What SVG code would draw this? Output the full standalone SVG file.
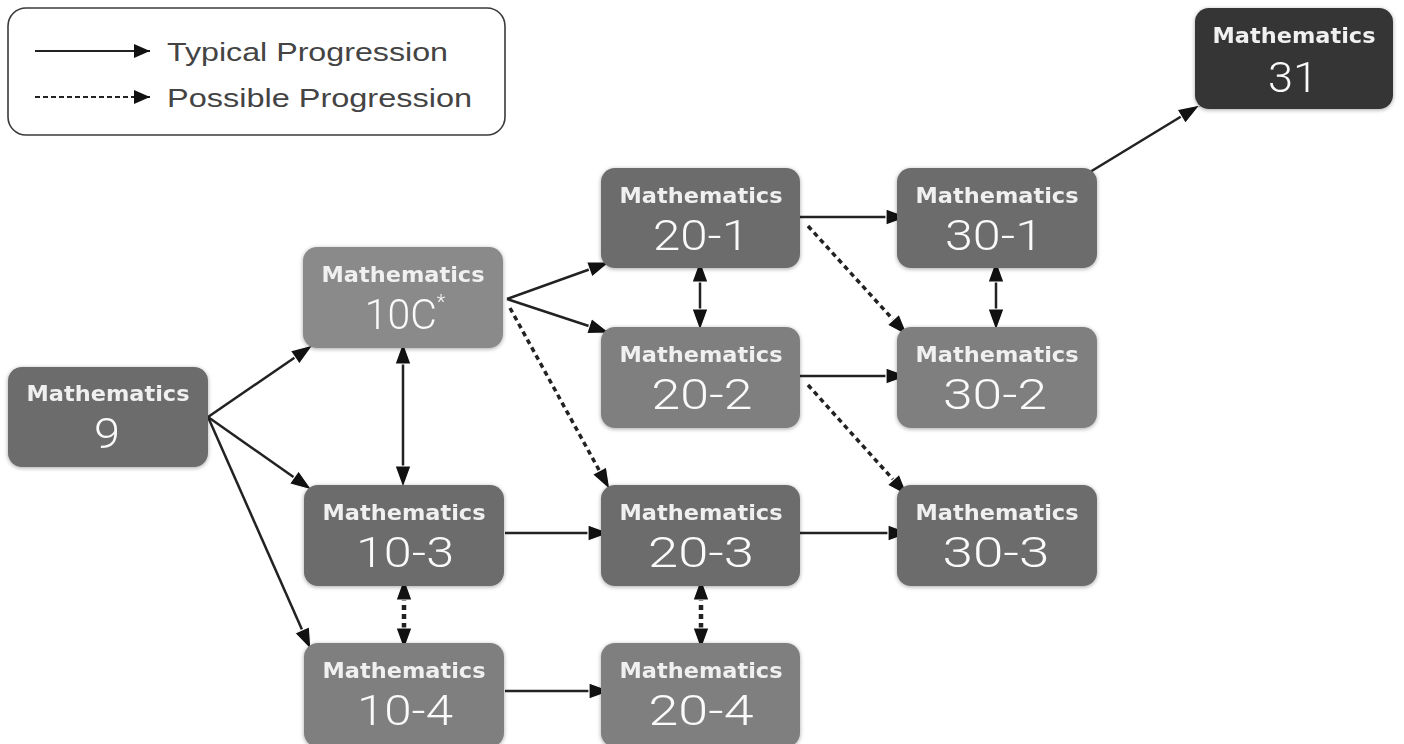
<svg xmlns="http://www.w3.org/2000/svg" width="1404" height="744" viewBox="0 0 1404 744">
<style>
.node rect{stroke:none}
.d{fill:#6c6c6c}
.l{fill:#7f7f7f}
.lc{fill:#8a8a8a}
.k{fill:#343434}
.m{font-family:"DejaVu Sans","Liberation Sans",sans-serif;font-weight:bold;font-size:21px;fill:#f0f0f0;text-anchor:middle}
.n{font-family:Roboto,"Open Sans","DejaVu Sans",sans-serif;font-weight:300;font-size:42px;fill:#fafafa;text-anchor:middle}
.leg{font-family:"Liberation Sans",Arial,sans-serif;font-size:25px;fill:#444}
.c{fill:none;stroke:#222;stroke-width:2.5}
.dash{fill:none;stroke:#222;stroke-width:3.5;stroke-dasharray:5 4}
.vd{fill:none;stroke:#222;stroke-width:4.5;stroke-dasharray:5 4}
</style>
<defs>
<marker id="ah" viewBox="0 0 26 22" markerWidth="26" markerHeight="22" refX="24" refY="11" orient="auto-start-reverse" markerUnits="userSpaceOnUse">
<path d="M2,3 L24,11 L2,19 z" fill="#111" stroke="#fff" stroke-width="1.2"/>
</marker>
<marker id="ahs" viewBox="0 0 18 16" markerWidth="18" markerHeight="16" refX="17" refY="8" orient="auto" markerUnits="userSpaceOnUse">
<path d="M1,1 L17,8 L1,15 z" fill="#111"/>
</marker>
<filter id="sh" x="-10%" y="-10%" width="120%" height="125%">
<feGaussianBlur in="SourceAlpha" stdDeviation="2"/>
<feOffset dx="0" dy="1" result="b"/>
<feComponentTransfer><feFuncA type="linear" slope="0.35"/></feComponentTransfer>
<feMerge><feMergeNode/><feMergeNode in="SourceGraphic"/></feMerge>
</filter>
</defs>
<rect width="1404" height="744" fill="#fff"/>

<g id="legend">
<rect x="8" y="8" width="497" height="127" rx="18" fill="#fff" stroke="#3a3a3a" stroke-width="1.6"/>
<line x1="35" y1="51" x2="150" y2="51" stroke="#222" stroke-width="2" marker-end="url(#ahs)"/>
<line x1="35" y1="97" x2="150" y2="97" stroke="#222" stroke-width="2" stroke-dasharray="5 3" marker-end="url(#ahs)"/>
<text class="leg" x="167" y="61" textLength="281" lengthAdjust="spacingAndGlyphs">Typical Progression</text>
<text class="leg" x="167" y="107" textLength="305" lengthAdjust="spacingAndGlyphs">Possible Progression</text>
</g>

<g id="connectors">
<path class="c" d="M208 417 L313 345" marker-end="url(#ah)"/>
<path class="c" d="M208 417 L312 490" marker-end="url(#ah)"/>
<path class="c" d="M208 417 L311 650" marker-end="url(#ah)"/>
<path class="c" d="M507 299 L610 262" marker-end="url(#ah)"/>
<path class="c" d="M507 299 L610 333" marker-end="url(#ah)"/>
<path class="c" d="M505 533 L610 533" marker-end="url(#ah)"/>
<path class="c" d="M505 691 L611 691" marker-end="url(#ah)"/>
<path class="c" d="M800 217 L908 217" marker-end="url(#ah)"/>
<path class="c" d="M800 376 L908 376" marker-end="url(#ah)"/>
<path class="c" d="M800 533 L910 533" marker-end="url(#ah)"/>
<path class="c" d="M1090 172 L1200 105" marker-end="url(#ah)"/>
<path class="c" d="M403 342 L403 488" marker-start="url(#ah)" marker-end="url(#ah)"/>
<path class="c" d="M700 260 L700 331" marker-start="url(#ah)" marker-end="url(#ah)"/>
<path class="c" d="M996 260 L996 331" marker-start="url(#ah)" marker-end="url(#ah)"/>
<path class="dash" d="M510 308 L610 490" marker-end="url(#ah)"/>
<path class="dash" d="M808 226 L908 336" marker-end="url(#ah)"/>
<path class="dash" d="M808 385 L908 496" marker-end="url(#ah)"/>
<path class="vd" d="M404 578 L404 650" marker-start="url(#ah)" marker-end="url(#ah)"/>
<path class="vd" d="M701 578 L701 650" marker-start="url(#ah)" marker-end="url(#ah)"/>
</g>

<g id="n9" class="node" filter="url(#sh)">
<rect class="d" x="8" y="367" width="200" height="100" rx="14"/>
<text class="m" x="108" y="401" textLength="163" lengthAdjust="spacingAndGlyphs">Mathematics</text>
<text class="n" x="107" y="448" textLength="26" lengthAdjust="spacingAndGlyphs">9</text>
</g>
<g id="n10c" class="node" filter="url(#sh)">
<rect class="lc" x="303" y="247" width="200" height="101" rx="14"/>
<text class="m" x="403" y="282" textLength="163" lengthAdjust="spacingAndGlyphs">Mathematics</text>
<text class="n" x="405" y="329"><tspan textLength="72" lengthAdjust="spacingAndGlyphs">10C</tspan><tspan font-size="20" dy="-20">*</tspan></text>
</g>
<g id="n10-3" class="node" filter="url(#sh)">
<rect class="d" x="304" y="485" width="200" height="101" rx="14"/>
<text class="m" x="404" y="520" textLength="163" lengthAdjust="spacingAndGlyphs">Mathematics</text>
<text class="n" x="405" y="567" textLength="98" lengthAdjust="spacingAndGlyphs">10-3</text>
</g>
<g id="n10-4" class="node" filter="url(#sh)">
<rect class="l" x="304" y="643" width="200" height="104" rx="14"/>
<text class="m" x="404" y="678" textLength="163" lengthAdjust="spacingAndGlyphs">Mathematics</text>
<text class="n" x="405" y="725" textLength="96" lengthAdjust="spacingAndGlyphs">10-4</text>
</g>
<g id="n20-1" class="node" filter="url(#sh)">
<rect class="d" x="601" y="168" width="199" height="100" rx="14"/>
<text class="m" x="701" y="203" textLength="163" lengthAdjust="spacingAndGlyphs">Mathematics</text>
<text class="n" x="701" y="250" textLength="96" lengthAdjust="spacingAndGlyphs">20-1</text>
</g>
<g id="n20-2" class="node" filter="url(#sh)">
<rect class="l" x="601" y="327" width="199" height="101" rx="14"/>
<text class="m" x="701" y="362" textLength="163" lengthAdjust="spacingAndGlyphs">Mathematics</text>
<text class="n" x="702" y="409" textLength="101" lengthAdjust="spacingAndGlyphs">20-2</text>
</g>
<g id="n20-3" class="node" filter="url(#sh)">
<rect class="d" x="601" y="485" width="199" height="101" rx="14"/>
<text class="m" x="701" y="520" textLength="163" lengthAdjust="spacingAndGlyphs">Mathematics</text>
<text class="n" x="701" y="567" textLength="106" lengthAdjust="spacingAndGlyphs">20-3</text>
</g>
<g id="n20-4" class="node" filter="url(#sh)">
<rect class="l" x="601" y="643" width="199" height="104" rx="14"/>
<text class="m" x="701" y="678" textLength="163" lengthAdjust="spacingAndGlyphs">Mathematics</text>
<text class="n" x="701" y="725" textLength="105" lengthAdjust="spacingAndGlyphs">20-4</text>
</g>
<g id="n30-1" class="node" filter="url(#sh)">
<rect class="d" x="897" y="168" width="200" height="100" rx="14"/>
<text class="m" x="997" y="203" textLength="163" lengthAdjust="spacingAndGlyphs">Mathematics</text>
<text class="n" x="994" y="250" textLength="98" lengthAdjust="spacingAndGlyphs">30-1</text>
</g>
<g id="n30-2" class="node" filter="url(#sh)">
<rect class="l" x="897" y="327" width="200" height="101" rx="14"/>
<text class="m" x="997" y="362" textLength="163" lengthAdjust="spacingAndGlyphs">Mathematics</text>
<text class="n" x="995" y="409" textLength="104" lengthAdjust="spacingAndGlyphs">30-2</text>
</g>
<g id="n30-3" class="node" filter="url(#sh)">
<rect class="d" x="897" y="485" width="200" height="101" rx="14"/>
<text class="m" x="997" y="520" textLength="163" lengthAdjust="spacingAndGlyphs">Mathematics</text>
<text class="n" x="996" y="567" textLength="107" lengthAdjust="spacingAndGlyphs">30-3</text>
</g>
<g id="n31" class="node" filter="url(#sh)">
<rect class="k" x="1195" y="8" width="198" height="101" rx="14"/>
<text class="m" x="1294" y="43" textLength="163" lengthAdjust="spacingAndGlyphs">Mathematics</text>
<text class="n" x="1293" y="92" textLength="50" lengthAdjust="spacingAndGlyphs">31</text>
</g>
</svg>
